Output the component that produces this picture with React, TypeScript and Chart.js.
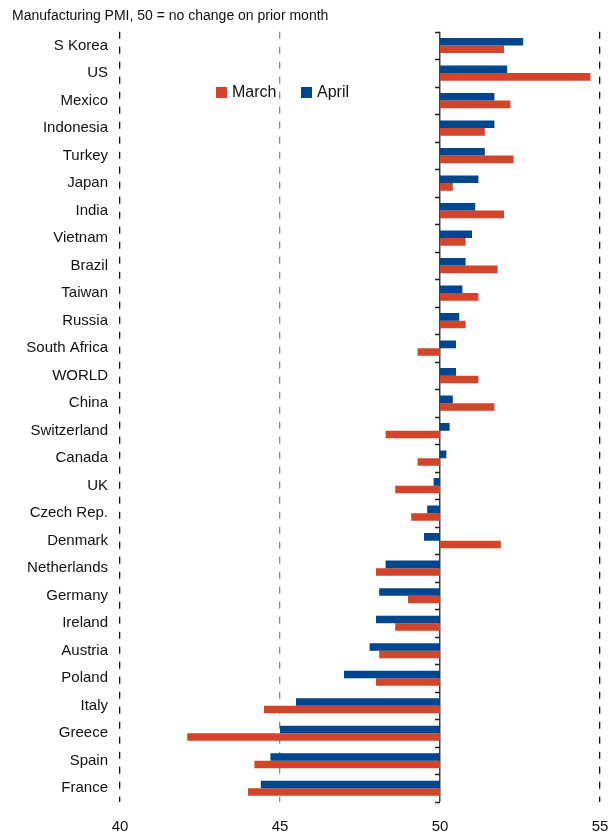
import React, { useEffect, useRef } from "react";
import { Chart, registerables } from "chart.js";

Chart.register(...registerables);

const categories = [
  "S Korea", "US", "Mexico", "Indonesia", "Turkey", "Japan", "India", "Vietnam",
  "Brazil", "Taiwan", "Russia", "South Africa", "WORLD", "China", "Switzerland",
  "Canada", "UK", "Czech Rep.", "Denmark", "Netherlands", "Germany", "Ireland",
  "Austria", "Poland", "Italy", "Greece", "Spain", "France",
];

const april = [
  52.6, 52.1, 51.7, 51.7, 51.4, 51.2, 51.1, 51.0, 50.8, 50.7, 50.6, 50.5, 50.5, 50.4,
  50.3, 50.2, 49.8, 49.6, 49.5, 48.3, 48.1, 48.0, 47.8, 47.0, 45.5, 45.0, 44.7, 44.4,
];

const march = [
  52.0, 54.7, 52.2, 51.4, 52.3, 50.4, 52.0, 50.8, 51.8, 51.2, 50.8, 49.3, 51.2, 51.7,
  48.3, 49.3, 48.6, 49.1, 51.9, 48.0, 49.0, 48.6, 48.1, 48.0, 44.5, 42.1, 44.2, 44.0,
];

const baseline = 50;
const xTicks = [40, 45, 50, 55];

const BLUE = "#00468F";
const RED = "#D2452A";
const FONT = "'Liberation Sans', Arial, sans-serif";

const boundaryTicks = {
  id: "boundaryTicks",
  afterDatasetsDraw(chart: any) {
    const { ctx, chartArea, scales } = chart;
    const x0 = scales.x.getPixelForValue(baseline);
    const n = categories.length;
    const step = (chartArea.bottom - chartArea.top) / n;
    ctx.save();
    ctx.strokeStyle = "#222";
    ctx.lineWidth = 1.5;
    for (let i = 0; i <= n; i++) {
      const y = Math.round(chartArea.top + i * step) + 0.5;
      ctx.beginPath();
      ctx.moveTo(x0 - 5, y);
      ctx.lineTo(x0, y);
      ctx.stroke();
    }
    ctx.restore();
  },
};

export default function App() {
  const ref = useRef<HTMLCanvasElement>(null);

  useEffect(() => {
    if (!ref.current) return;
    const chart = new Chart(ref.current, {
      type: "bar",
      data: {
        labels: categories,
        datasets: [
          {
            label: "April",
            data: april.map((v) => [baseline, v]) as any,
            backgroundColor: BLUE,
            borderWidth: 0,
            categoryPercentage: 0.55,
            barPercentage: 1,
          },
          {
            label: "March",
            data: march.map((v) => [baseline, v]) as any,
            backgroundColor: RED,
            borderWidth: 0,
            categoryPercentage: 0.55,
            barPercentage: 1,
          },
        ],
      },
      options: {
        indexAxis: "y",
        responsive: false,
        animation: false,
        layout: { padding: { left: 12, right: 12, top: 0, bottom: 0 } },
        plugins: {
          legend: { display: false },
          tooltip: { enabled: false },
          title: {
            display: true,
            text: "Manufacturing PMI, 50 = no change on prior month",
            align: "start",
            color: "#111",
            font: { family: FONT, size: 14, weight: "normal" },
            padding: { top: 8, bottom: 7 },
          },
        },
        scales: {
          x: {
            type: "linear",
            min: 40,
            max: 55,
            afterBuildTicks: (scale: any) => {
              scale.ticks = xTicks.map((v) => ({ value: v }));
            },
            afterFit: (scale: any) => {
              scale.height = 33;
              scale.paddingLeft = 0;
              scale.paddingRight = 0;
            },
            ticks: {
              color: "#111",
              font: { family: FONT, size: 15 },
              padding: 16,
            },
            grid: {
              drawTicks: false,
              color: (ctx: any) => {
                const v = ctx.tick && ctx.tick.value;
                if (v === 45) return "#8a8a8a";
                if (v === 50) return "#444";
                return "#111";
              },
              lineWidth: (ctx: any) => (ctx.tick && ctx.tick.value === 50 ? 1.5 : 1.3),
            },
            border: {
              display: false,
              dash: (ctx: any) => (ctx.tick && ctx.tick.value === 50 ? [] : [7, 8]),
            } as any,
          },
          y: {
            type: "category",
            afterFit: (scale: any) => {
              scale.width = 108;
              scale.paddingTop = 0;
              scale.paddingBottom = 0;
            },
            ticks: {
              autoSkip: false,
              color: "#111",
              font: { family: FONT, size: 15 },
              padding: 12,
            },
            grid: { display: false, drawTicks: false },
            border: { display: false },
          },
        },
      },
      plugins: [boundaryTicks],
    });
    return () => chart.destroy();
  }, []);

  const legendItem = (color: string, text: string, left: number) => (
    <div
      style={{
        position: "absolute",
        left,
        top: 80,
        display: "flex",
        alignItems: "center",
        fontFamily: FONT,
        fontSize: 16,
        color: "#111",
        lineHeight: "24px",
      }}
    >
      <span style={{ display: "inline-block", width: 11, height: 11, background: color, marginRight: 5 }} />
      <span>{text}</span>
    </div>
  );

  return (
    <div style={{ position: "absolute", left: 0, top: 0, width: 612, height: 835, background: "#fff" }}>
      <canvas ref={ref} width={612} height={835} style={{ display: "block" }} />
      {legendItem(RED, "March", 216)}
      {legendItem(BLUE, "April", 301)}
    </div>
  );
}
